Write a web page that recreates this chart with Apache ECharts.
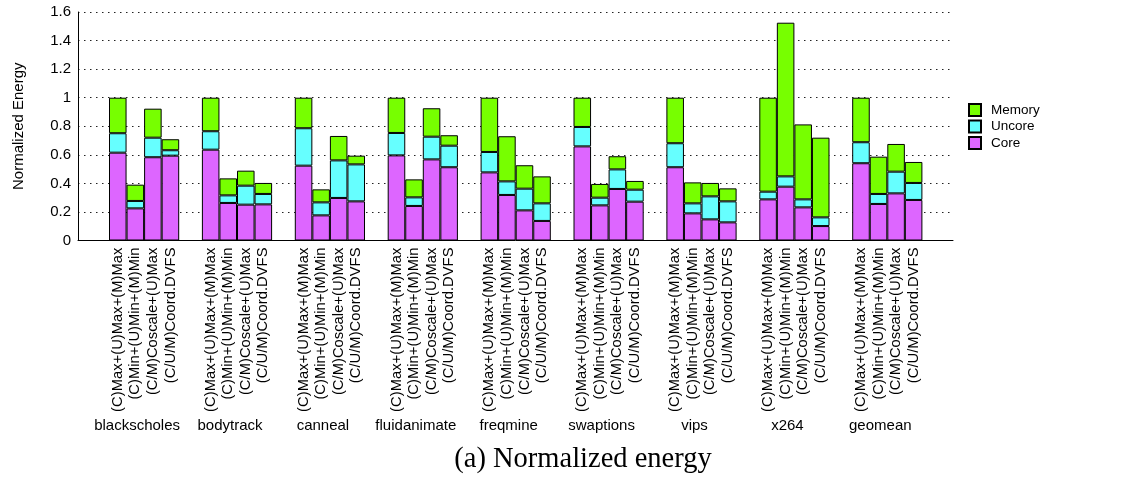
<!DOCTYPE html>
<html><head><meta charset="utf-8">
<script src="https://cdn.jsdelivr.net/npm/echarts@6/dist/echarts.min.js"></script>
<style>html,body{margin:0;padding:0;background:#fff}#c{width:1137px;height:477px}</style>
</head><body><div id="c"></div>
<script>
// ---- data ----
const benchmarks = ['blackscholes','bodytrack','canneal','fluidanimate','freqmine','swaptions','vips','x264','geomean'];
const configs = ['(C)Max+(U)Max+(M)Max','(C)Min+(U)Min+(M)Min','(C/M)Coscale+(U)Max','(C/U/M)Coord.DVFS'];
const components = ['Core','Uncore','Memory'];

// (C)Max+(U)Max+(M)Max
const coreMax     = [0.615,0.636,0.524,0.596,0.477,0.659,0.513,0.288,0.541];
const uncoreMax   = [0.136,0.129,0.262,0.157,0.143,0.136,0.168,0.054,0.147];
const memoryMax   = [0.249,0.235,0.214,0.247,0.380,0.205,0.319,0.658,0.312];
// (C)Min+(U)Min+(M)Min
const coreMin     = [0.225,0.263,0.176,0.242,0.319,0.246,0.190,0.377,0.256];
const uncoreMin   = [0.052,0.053,0.091,0.060,0.095,0.054,0.070,0.072,0.070];
const memoryMin   = [0.114,0.119,0.091,0.126,0.316,0.096,0.147,1.076,0.261];
// (C/M)Coscale+(U)Max
const coreCoscale   = [0.583,0.251,0.298,0.568,0.211,0.361,0.148,0.232,0.330];
const uncoreCoscale = [0.137,0.133,0.263,0.159,0.152,0.137,0.161,0.056,0.152];
const memoryCoscale = [0.203,0.105,0.171,0.199,0.164,0.092,0.094,0.525,0.194];
// (C/U/M)Coord.DVFS
const coreCoord   = [0.594,0.253,0.274,0.513,0.137,0.272,0.127,0.101,0.284];
const uncoreCoord = [0.038,0.073,0.259,0.151,0.123,0.084,0.147,0.061,0.119];
const memoryCoord = [0.077,0.077,0.061,0.073,0.189,0.061,0.091,0.558,0.147];

// ---- build ----
const FONT = '"Liberation Sans", Arial, Helvetica, sans-serif';
const values = {
  Core:   [coreMax, coreMin, coreCoscale, coreCoord],
  Uncore: [uncoreMax, uncoreMin, uncoreCoscale, uncoreCoord],
  Memory: [memoryMax, memoryMin, memoryCoscale, memoryCoord]
};
const colors = { Core: '#dd66ff', Uncore: '#66ffff', Memory: '#77ff00' };

const series = [];
configs.forEach((cfg, ci) => {
  components.forEach((comp, k) => {
    const s = {
      name: comp, type: 'bar', stack: 'cfg' + ci,
      xAxisIndex: 1, yAxisIndex: 1,
      barWidth: 17.55, barGap: '0%',
      data: values[comp][ci],
      itemStyle: { color: colors[comp], borderColor: '#000', borderWidth: 1 },
      emphasis: { disabled: true },
      animation: false
    };
    if (k === 0) {
      s.label = {
        show: true, position: 'bottom', distance: 7, rotate: 90,
        align: 'right', verticalAlign: 'middle',
        formatter: () => cfg,
        fontFamily: FONT, fontSize: 14.8, color: '#000'
      };
    }
    series.push(s);
  });
});

const chart = echarts.init(document.getElementById('c'), null, { renderer: 'canvas' });
chart.setOption({
  animation: false,
  backgroundColor: '#fff',
  grid: [
    { left: 78, right: 184, top: 12, bottom: 236.5 },
    { left: 97.65, width: 836.1, top: 12, bottom: 236.5 },
    { left: 90.65, width: 836.1, top: 12, bottom: 236.5 }
  ],
  xAxis: [
    { gridIndex: 0, type: 'value', min: 0, max: 1,
      axisLine: { show: true, lineStyle: { color: '#000', width: 1 } },
      axisTick: { show: false }, axisLabel: { show: false }, splitLine: { show: false } },
    { gridIndex: 1, type: 'category', data: benchmarks, show: false },
    { gridIndex: 2, type: 'category', data: benchmarks,
      axisLine: { show: false }, axisTick: { show: false }, splitLine: { show: false },
      axisLabel: { margin: 178, fontSize: 15, color: '#000', fontFamily: FONT, interval: 0 } }
  ],
  yAxis: [
    { gridIndex: 0, type: 'value', min: 0, max: 1.6, interval: 0.2,
      axisLine: { show: true, lineStyle: { color: '#000', width: 1 } },
      axisTick: { show: false },
      axisLabel: { fontSize: 15, color: '#000', fontFamily: FONT, margin: 7 },
      splitLine: { show: true, lineStyle: { color: '#222', width: 1, type: [1.5, 4.5] } },
      name: 'Normalized Energy', nameLocation: 'middle', nameGap: 52,
      nameTextStyle: { fontSize: 15, color: '#000', fontFamily: FONT } },
    { gridIndex: 1, type: 'value', min: 0, max: 1.6, show: false, splitLine: { show: false } },
    { gridIndex: 2, type: 'value', min: 0, max: 1.6, show: false, splitLine: { show: false } }
  ],
  legend: {
    data: ['Memory', 'Uncore', 'Core'],
    orient: 'vertical', left: 968, top: 103, padding: 0,
    itemWidth: 12, itemHeight: 12, itemGap: 2.5,
    icon: 'rect', selectedMode: false,
    textStyle: { fontSize: 13.5, color: '#000', fontFamily: FONT, padding: [0, 0, 0, 5] }
  },
  graphic: [{
    type: 'text', x: 583, y: 460,
    style: { text: '(a) Normalized energy', fontFamily: '"Liberation Serif", "Times New Roman", serif',
      fontSize: 28.5, fill: '#000', align: 'center', verticalAlign: 'middle' }
  }],
  series: series
});
</script>
</body></html>
